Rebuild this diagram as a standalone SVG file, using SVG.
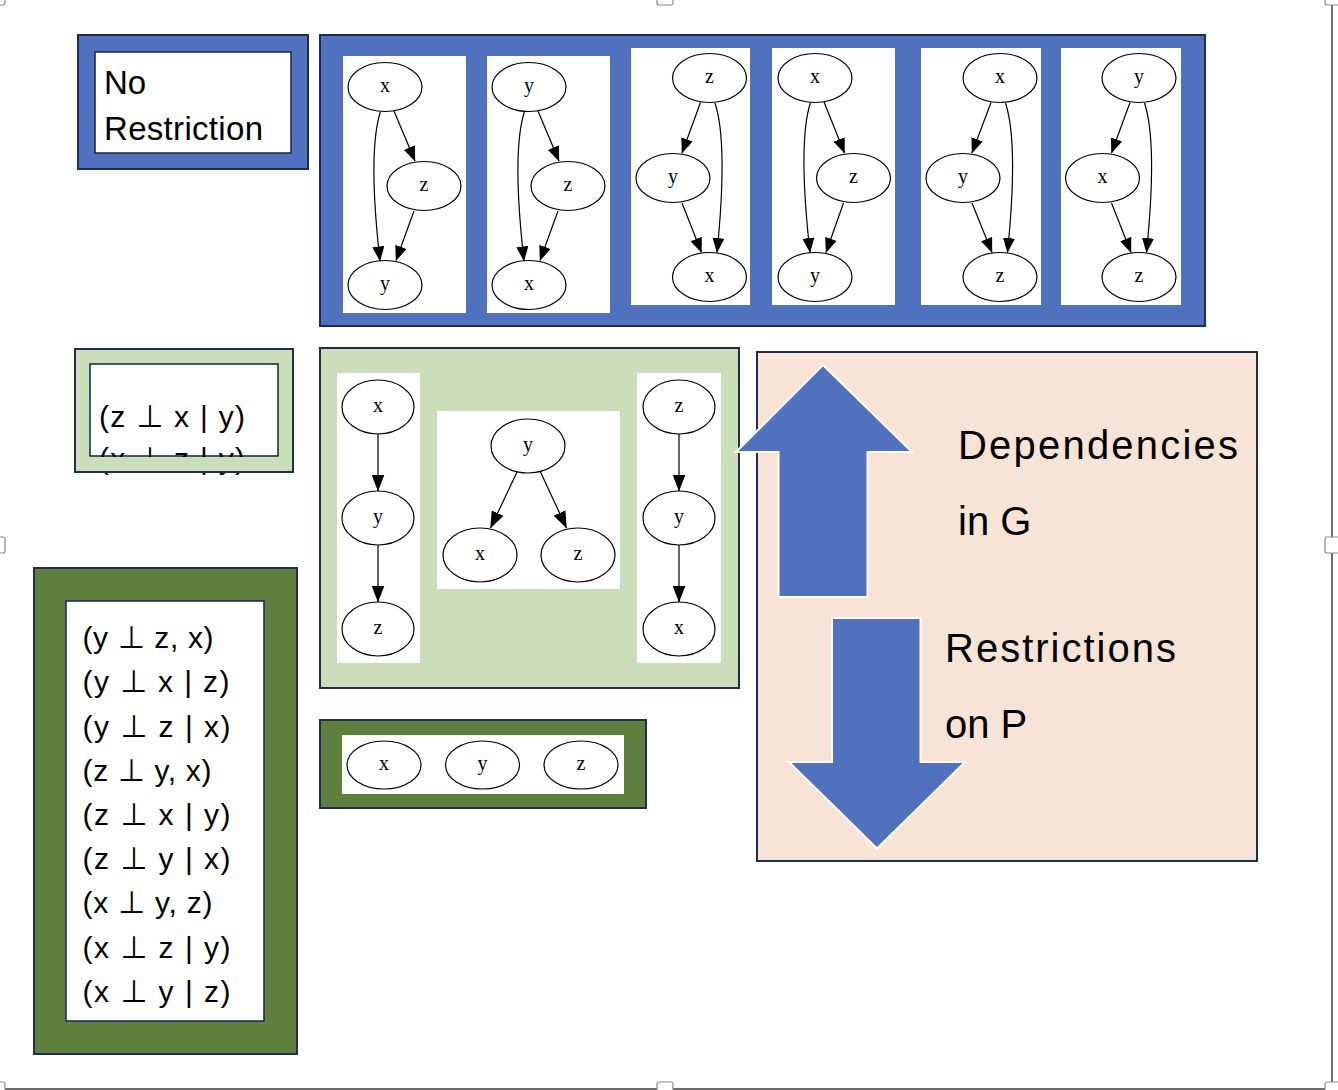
<svg xmlns="http://www.w3.org/2000/svg" width="1338" height="1090" viewBox="0 0 1338 1090">
<defs>
<style>
.bg{fill:#ffffff}
.pnl{stroke:#1f2d50;stroke-width:2}
.blue{fill:#4f71be}
.lgreen{fill:#cadfb9}
.dgreen{fill:#5f7f3f}
.peach{fill:#f7e4d7}
.card{fill:#ffffff}
.tbox{fill:#ffffff;stroke:#1f2d50;stroke-width:1.6}
.node{fill:#ffffff;stroke:#000000;stroke-width:1.2}
.nl{font-family:"Liberation Serif","Times New Roman",serif;font-size:20px;text-anchor:middle;fill:#000}
.edge{fill:none;stroke:#000000;stroke-width:1.2;marker-end:url(#ah)}
.edge2{fill:none;stroke:#000000;stroke-width:1.2;marker-end:url(#ah2)}
.t{font-family:"Liberation Sans",Arial,sans-serif;font-size:30px;fill:#000}
.perp{font-family:"DejaVu Sans",sans-serif;font-size:31px}
.big{font-family:"Liberation Sans",Arial,sans-serif;font-size:40px;fill:#000}
.nr{font-family:"Liberation Sans",Arial,sans-serif;font-size:33px;fill:#000}
.arrow{fill:#4f71be;stroke:#ffffff;stroke-width:2}
.handle{fill:#ffffff;stroke:#8a8a8a;stroke-width:1.2}
.frame{stroke:#6b6b6b;stroke-width:2;fill:none}
</style>
<marker id="ah" markerUnits="userSpaceOnUse" markerWidth="15" markerHeight="12" viewBox="0 0 15 12" refX="14.5" refY="6" orient="auto">
<path d="M0,0 L15,6 L0,12 z" fill="#000"/>
</marker>
<marker id="ah2" markerUnits="userSpaceOnUse" markerWidth="17" markerHeight="13" viewBox="0 0 17 13" refX="16.5" refY="6.5" orient="auto">
<path d="M0,0 L17,6.5 L0,13 z" fill="#000"/>
</marker>
</defs>
<rect class="bg" x="0" y="0" width="1338" height="1090"/>

<g id="no-restriction">
<rect class="blue pnl" x="78" y="35" width="230" height="134"/>
<rect class="tbox" x="95" y="52" width="196" height="101"/>
<text class="nr" x="104" y="94">No</text>
<text class="nr" x="104" y="140" textLength="159">Restriction</text>
</g>

<g id="all-dags-panel">
<rect class="blue pnl" x="320" y="35" width="885" height="291"/>
<rect class="card" x="343" y="56" width="123" height="257"/>
<rect class="card" x="487" y="56" width="123" height="257"/>
<rect class="card" x="631" y="48" width="119" height="257"/>
<rect class="card" x="772" y="48" width="123" height="257"/>
<rect class="card" x="921" y="48" width="120" height="257"/>
<rect class="card" x="1061" y="48" width="120" height="257"/>
</g>

<g id="chain-panel">
<rect class="lgreen pnl" x="320" y="348" width="419" height="340"/>
<rect class="card" x="337" y="373" width="83" height="290"/>
<rect class="card" x="437" y="411" width="183" height="178"/>
<rect class="card" x="637" y="373" width="84" height="290"/>
</g>

<g id="empty-panel">
<rect class="dgreen pnl" x="320" y="720" width="326" height="88"/>
<rect class="card" x="342" y="735" width="282" height="59"/>
</g>

<g id="box-zx">
<rect class="lgreen pnl" x="75" y="349" width="218" height="123"/>
<rect class="tbox" x="90" y="364" width="188" height="92"/>
<text class="t" x="99" y="427" textLength="146">(z <tspan class="perp">⊥</tspan> x | y)</text>
<text class="t" x="99" y="469" textLength="146">(x <tspan class="perp">⊥</tspan> z | y)</text>
<rect class="lgreen" x="76" y="457" width="216" height="14"/>
<rect x="75" y="349" width="218" height="123" fill="none" class="pnl"/>
</g>

<g id="independence-list">
<rect class="dgreen pnl" x="34" y="568" width="263" height="486"/>
<rect class="tbox" x="66" y="601" width="198" height="420"/>
<text class="t" x="82.5" y="648" textLength="131">(y <tspan class="perp">⊥</tspan> z, x)</text>
<text class="t" x="82.5" y="692" textLength="147">(y <tspan class="perp">⊥</tspan> x | z)</text>
<text class="t" x="82.5" y="736.5" textLength="148">(y <tspan class="perp">⊥</tspan> z | x)</text>
<text class="t" x="82.5" y="780.5" textLength="129">(z <tspan class="perp">⊥</tspan> y, x)</text>
<text class="t" x="82.5" y="825" textLength="148">(z <tspan class="perp">⊥</tspan> x | y)</text>
<text class="t" x="82.5" y="869" textLength="148">(z <tspan class="perp">⊥</tspan> y | x)</text>
<text class="t" x="82.5" y="913" textLength="130">(x <tspan class="perp">⊥</tspan> y, z)</text>
<text class="t" x="82.5" y="957.5" textLength="148">(x <tspan class="perp">⊥</tspan> z | y)</text>
<text class="t" x="82.5" y="1001.5" textLength="148">(x <tspan class="perp">⊥</tspan> y | z)</text>
</g>

<g id="connectors">
<path class="edge" d="M380.5,111.5 C369,147 375,217 380,261"/>
<path class="edge" d="M394,111 L415,161"/>
<path class="edge" d="M414,211 L396,260.5"/>
<path class="edge" d="M524.5,111.5 C513,147 519,217 524,261"/>
<path class="edge" d="M538,111 L559,161"/>
<path class="edge" d="M558,211 L540,260.5"/>
<path class="edge" d="M715,103 C726.5,138 721.5,208 717,252.5"/>
<path class="edge" d="M700.5,102.5 L682,153"/>
<path class="edge" d="M682,203 L701.5,252.5"/>
<path class="edge" d="M810.5,102.5 C799,138 805,208 810,252.5"/>
<path class="edge" d="M824,102 L844.5,153"/>
<path class="edge" d="M843.5,203 L826,252.5"/>
<path class="edge" d="M1005.5,103 C1017,138 1012,208 1007.5,252.5"/>
<path class="edge" d="M991,102.5 L972,153"/>
<path class="edge" d="M972,203 L992,252.5"/>
<path class="edge" d="M1144.5,103 C1156,138 1151,208 1146.5,252.5"/>
<path class="edge" d="M1130,102.5 L1111.5,153"/>
<path class="edge" d="M1111.5,203 L1131,252.5"/>
<path class="edge2" d="M378,434 L378,491"/>
<path class="edge2" d="M378,545 L378,602"/>
<path class="edge2" d="M517,472 L490.5,528"/>
<path class="edge2" d="M540.5,472 L566.5,528"/>
<path class="edge2" d="M679,434 L679,491"/>
<path class="edge2" d="M679,545 L679,602"/>
</g>

<g id="dag1">
<ellipse class="node" cx="385" cy="87" rx="37" ry="24.5"/><text class="nl" x="385" y="92">x</text>
<ellipse class="node" cx="424" cy="186" rx="37" ry="24.5"/><text class="nl" x="424" y="191">z</text>
<ellipse class="node" cx="385" cy="285" rx="37" ry="24.5"/><text class="nl" x="385" y="290">y</text>
</g>
<g id="dag2">
<ellipse class="node" cx="529" cy="87" rx="37" ry="24.5"/><text class="nl" x="529" y="92">y</text>
<ellipse class="node" cx="568" cy="186" rx="37" ry="24.5"/><text class="nl" x="568" y="191">z</text>
<ellipse class="node" cx="529" cy="285" rx="37" ry="24.5"/><text class="nl" x="529" y="290">x</text>
</g>
<g id="dag3">
<ellipse class="node" cx="709.5" cy="78" rx="37" ry="24.5"/><text class="nl" x="709.5" y="83">z</text>
<ellipse class="node" cx="673" cy="178" rx="37" ry="24.5"/><text class="nl" x="673" y="183">y</text>
<ellipse class="node" cx="709.5" cy="277" rx="37" ry="24.5"/><text class="nl" x="709.5" y="282">x</text>
</g>
<g id="dag4">
<ellipse class="node" cx="815" cy="78" rx="37" ry="24.5"/><text class="nl" x="815" y="83">x</text>
<ellipse class="node" cx="853.5" cy="178" rx="37" ry="24.5"/><text class="nl" x="853.5" y="183">z</text>
<ellipse class="node" cx="815" cy="277" rx="37" ry="24.5"/><text class="nl" x="815" y="282">y</text>
</g>
<g id="dag5">
<ellipse class="node" cx="1000" cy="78" rx="37" ry="24.5"/><text class="nl" x="1000" y="83">x</text>
<ellipse class="node" cx="963" cy="178" rx="37" ry="24.5"/><text class="nl" x="963" y="183">y</text>
<ellipse class="node" cx="1000" cy="277" rx="37" ry="24.5"/><text class="nl" x="1000" y="282">z</text>
</g>
<g id="dag6">
<ellipse class="node" cx="1139" cy="78" rx="37" ry="24.5"/><text class="nl" x="1139" y="83">y</text>
<ellipse class="node" cx="1102.5" cy="178" rx="37" ry="24.5"/><text class="nl" x="1102.5" y="183">x</text>
<ellipse class="node" cx="1139" cy="277" rx="37" ry="24.5"/><text class="nl" x="1139" y="282">z</text>
</g>
<g id="chain-xyz">
<ellipse class="node" cx="378" cy="407" rx="36" ry="27"/><text class="nl" x="378" y="412">x</text>
<ellipse class="node" cx="378" cy="518" rx="36" ry="27"/><text class="nl" x="378" y="523">y</text>
<ellipse class="node" cx="378" cy="629" rx="36" ry="27"/><text class="nl" x="378" y="634">z</text>
</g>
<g id="fork-y">
<ellipse class="node" cx="528" cy="446" rx="37" ry="27"/><text class="nl" x="528" y="451">y</text>
<ellipse class="node" cx="480" cy="555" rx="37" ry="27"/><text class="nl" x="480" y="560">x</text>
<ellipse class="node" cx="578" cy="555" rx="37" ry="27"/><text class="nl" x="578" y="560">z</text>
</g>
<g id="chain-zyx">
<ellipse class="node" cx="679" cy="407" rx="36" ry="27"/><text class="nl" x="679" y="412">z</text>
<ellipse class="node" cx="679" cy="518" rx="36" ry="27"/><text class="nl" x="679" y="523">y</text>
<ellipse class="node" cx="679" cy="629" rx="36" ry="27"/><text class="nl" x="679" y="634">x</text>
</g>
<g id="empty-graph">
<ellipse class="node" cx="384" cy="765" rx="37" ry="24"/><text class="nl" x="384" y="770">x</text>
<ellipse class="node" cx="482.5" cy="765" rx="37" ry="24"/><text class="nl" x="482.5" y="770">y</text>
<ellipse class="node" cx="581" cy="765" rx="37" ry="24"/><text class="nl" x="581" y="770">z</text>
</g>

<g id="legend">
<rect class="peach pnl" x="757" y="352" width="500" height="509"/>
<polygon class="arrow" points="823,365 912,452 867.5,452 867.5,597 778.5,597 778.5,452 736,452"/>
<polygon class="arrow" points="832,618 920.5,618 920.5,762 965,762 877,848.5 789,762 832,762"/>
<text class="big" x="958" y="459" textLength="280">Dependencies</text>
<text class="big" x="958" y="535">in G</text>
<text class="big" x="945" y="662" textLength="231">Restrictions</text>
<text class="big" x="945" y="738">on P</text>
</g>

<g id="selection-frame">
<line class="frame" x1="1332" y1="0" x2="1332" y2="1089"/>
<line class="frame" x1="0" y1="1089" x2="1332" y2="1089"/>
<rect class="handle" x="-11" y="-11" width="16" height="16" rx="2"/>
<rect class="handle" x="657" y="-11" width="16" height="16" rx="2"/>
<rect class="handle" x="1325" y="-11" width="16" height="16" rx="2"/>
<rect class="handle" x="-11" y="537" width="16" height="16" rx="2"/>
<rect class="handle" x="1325" y="537" width="16" height="16" rx="2"/>
<rect class="handle" x="-11" y="1082" width="16" height="16" rx="2"/>
<rect class="handle" x="657" y="1082" width="16" height="16" rx="2"/>
<rect class="handle" x="1325" y="1082" width="16" height="16" rx="2"/>
</g>
</svg>
